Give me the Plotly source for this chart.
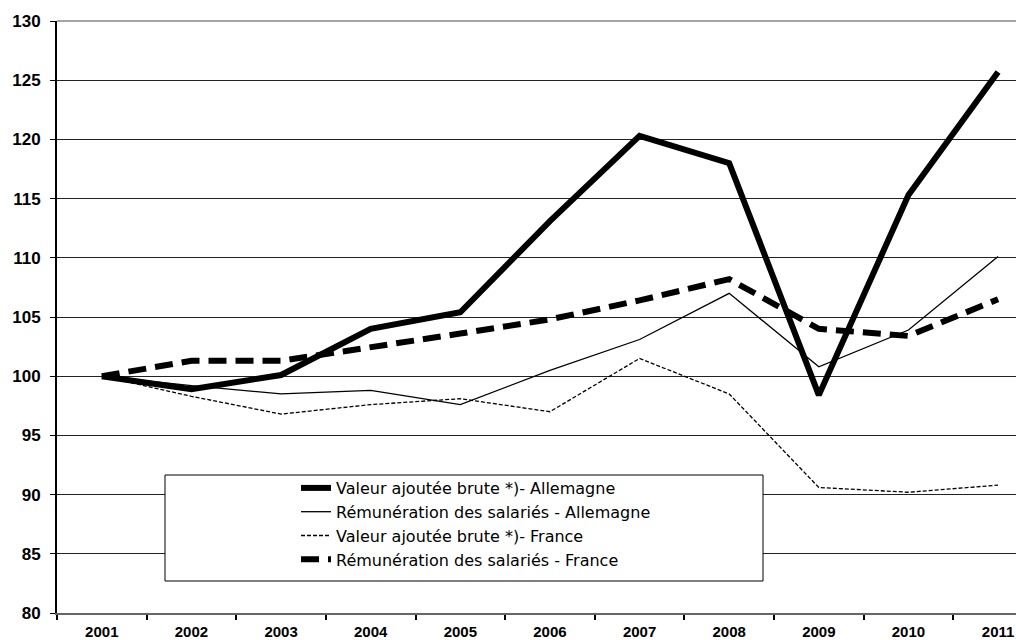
import plotly.graph_objects as go

years = ["2001", "2002", "2003", "2004", "2005", "2006", "2007", "2008", "2009", "2010", "2011"]

vab_allemagne = [100, 98.9, 100.1, 104.0, 105.4, 113.1, 120.3, 118.0, 98.4, 115.3, 125.7]
rem_allemagne = [100, 99.2, 98.5, 98.8, 97.6, 100.5, 103.1, 107.0, 100.8, 103.9, 110.1]
vab_france = [100, 98.3, 96.8, 97.6, 98.1, 97.0, 101.5, 98.5, 90.6, 90.2, 90.8]
rem_france = [100, 101.3, 101.3, 102.4, 103.6, 104.8, 106.4, 108.2, 104.0, 103.4, 106.5]

names = [
    "Valeur ajoutée brute *)- Allemagne",
    "Rémunération des salariés - Allemagne",
    "Valeur ajoutée brute *)- France",
    "Rémunération des salariés - France",
]

fig = go.Figure()
fig.add_trace(go.Scatter(x=years, y=vab_allemagne, mode="lines", name=names[0],
                         line=dict(color="black", width=6)))
fig.add_trace(go.Scatter(x=years, y=rem_allemagne, mode="lines", name=names[1],
                         line=dict(color="black", width=1.3)))
fig.add_trace(go.Scatter(x=years, y=vab_france, mode="lines", name=names[2],
                         line=dict(color="black", width=1.3, dash="4px,2px")))
fig.add_trace(go.Scatter(x=years, y=rem_france, mode="lines", name=names[3],
                         line=dict(color="black", width=6, dash="18px,9px")))

# legend frame
fig.add_shape(type="rect", xref="paper", yref="paper",
              x0=(165 - 57) / 959, x1=(763 - 57) / 959,
              y0=(613 - 581) / 592, y1=(613 - 475) / 592,
              line=dict(color="black", width=1), fillcolor="white", layer="above")
# top border line at 130
fig.add_shape(type="line", xref="paper", yref="paper", x0=0, x1=1, y0=1, y1=1,
              line=dict(color="#888", width=1.5), layer="below")

fig.update_layout(
    width=1016, height=640,
    margin=dict(l=57, r=0, t=21, b=27),
    paper_bgcolor="white", plot_bgcolor="white",
    font=dict(family="Liberation Sans, Arial, sans-serif", color="black"),
    showlegend=True,
    legend=dict(x=(296 - 57) / 959, y=(613 - 471) / 592, xanchor="left", yanchor="top",
                bgcolor="rgba(0,0,0,0)", borderwidth=0,
                font=dict(size=16, color="black", family="DejaVu Sans, sans-serif"),
                tracegroupgap=0),
    xaxis=dict(type="category", range=[-0.5, 10.2], tickson="boundaries",
               ticks="outside", ticklen=5, tickwidth=2, tickcolor="black",
               showline=True, linecolor="#666", linewidth=2, showgrid=False,
               tickfont=dict(size=15, family="Liberation Sans, Arial", weight="bold"),
               ticklabelstandoff=4, automargin=False, fixedrange=True),
    yaxis=dict(range=[80, 130], dtick=5, tick0=80,
               ticks="outside", ticklen=5, tickwidth=1, tickcolor="black",
               showline=True, linecolor="black", linewidth=2,
               showgrid=True, gridcolor="#222", gridwidth=1, zeroline=False,
               tickfont=dict(size=17, family="Liberation Sans, Arial", weight="bold"),
               ticklabelstandoff=6, automargin=False, fixedrange=True),
)

fig.write_html("out.html", config={"displayModeBar": False},
               post_script="document.body.style.margin='0';document.body.style.overflow='hidden';")
